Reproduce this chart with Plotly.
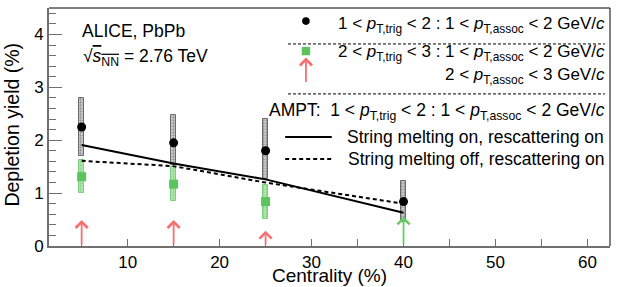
import plotly.graph_objects as go

# ---------------- data ----------------
centrality = [5, 15, 25, 40]

# 1 < pT,trig < 2 : 1 < pT,assoc < 2 GeV/c
yield_12 = [2.25, 1.95, 1.80, 0.84]
syst_12_low = [1.70, 1.53, 1.27, 0.46]
syst_12_high = [2.79, 2.48, 2.40, 1.22]

# 2 < pT,trig < 3 : 1 < pT,assoc < 2 GeV/c
cent_23 = [5, 15, 25]
yield_23 = [1.31, 1.17, 0.84]
syst_23_low = [1.00, 0.86, 0.52]
syst_23_high = [1.63, 1.49, 1.15]

# 2 < pT,trig < 3 : 2 < pT,assoc < 3 GeV/c -> lower limits (arrows)
cent_lim_red = [5, 15, 25]
lim_red = [0.49, 0.49, 0.29]
cent_lim_green = [40]
lim_green = [0.56]

# AMPT
ampt_sm_on = [1.91, 1.56, 1.26, 0.63]
ampt_sm_off = [1.61, 1.51, 1.20, 0.80]

x_ticks = [10, 20, 30, 40, 50, 60]
y_ticks = [0, 1, 2, 3, 4]

FONT = "Liberation Sans, Arial, Helvetica, sans-serif"
GREEN = "#5cc45c"
GREEN_ARROW = "#66cc66"
RED_ARROW = "#fa6e6e"
GRAY_AX = "#707070"

fig = go.Figure()

# systematic (hatched) boxes
fig.add_trace(go.Bar(
    x=centrality,
    y=[h - l for h, l in zip(syst_12_high, syst_12_low)],
    base=syst_12_low, width=0.55,
    marker=dict(color="#c8c8c8", line=dict(color="#6a6a6a", width=1),
                pattern=dict(shape=".", fgcolor="#555555", bgcolor="#d0d0d0",
                             size=3, solidity=0.45)),
    showlegend=False, hoverinfo="skip"))
fig.add_trace(go.Bar(
    x=cent_23,
    y=[h - l for h, l in zip(syst_23_high, syst_23_low)],
    base=syst_23_low, width=0.55,
    marker=dict(color="#a8e0a8", line=dict(color="#7ccf7c", width=1),
                pattern=dict(shape=".", fgcolor="#5cc45c", bgcolor="#b8e8b8",
                             size=3, solidity=0.45)),
    showlegend=False, hoverinfo="skip"))

# AMPT lines
fig.add_trace(go.Scatter(x=centrality, y=ampt_sm_on, mode="lines",
                         line=dict(color="black", width=2), showlegend=False))
fig.add_trace(go.Scatter(x=centrality, y=ampt_sm_off, mode="lines",
                         line=dict(color="black", width=2, dash="4px,3px"),
                         showlegend=False))

# data points
fig.add_trace(go.Scatter(x=cent_23, y=yield_23, mode="markers",
                         marker=dict(symbol="square", size=9, color=GREEN),
                         showlegend=False))
fig.add_trace(go.Scatter(x=centrality, y=yield_12, mode="markers",
                         marker=dict(symbol="circle", size=9, color="black"),
                         showlegend=False))

annotations = []
# lower-limit arrows
for xs, ys, col in [(cent_lim_red, lim_red, RED_ARROW),
                    (cent_lim_green, lim_green, GREEN_ARROW)]:
    for xv, yv in zip(xs, ys):
        annotations.append(dict(
            x=xv, y=yv, ax=xv, ay=0, xref="x", yref="y", axref="x", ayref="y",
            text="", showarrow=True, arrowhead=4, arrowsize=1.3,
            arrowwidth=1.8, arrowcolor=col, standoff=0))

TXT = dict(family=FONT, size=17.5, color="black")
TXT_S = dict(family=FONT, size=17, color="black")
def ann(text, x, y, xanchor="right", yanchor="middle", font=TXT):
    annotations.append(dict(text=text, x=x, y=y, xref="paper", yref="paper",
                            xanchor=xanchor, yanchor=yanchor, showarrow=False,
                            font=font))

ann("ALICE, PbPb", 0.055, 0.903, xanchor="left")
ann("√<span style='text-decoration:overline'><i>s</i><sub>NN</sub></span> = 2.76 TeV",
    0.057, 0.79, xanchor="left")

ann("1 &lt; <i>p</i><sub>T,trig</sub> &lt; 2 : 1 &lt; <i>p</i><sub>T,assoc</sub> &lt; 2 GeV/<i>c</i>",
    0.995, 0.93, font=TXT_S)
ann("2 &lt; <i>p</i><sub>T,trig</sub> &lt; 3 : 1 &lt; <i>p</i><sub>T,assoc</sub> &lt; 2 GeV/<i>c</i>",
    0.995, 0.81, font=TXT_S)
ann("2 &lt; <i>p</i><sub>T,assoc</sub> &lt; 3 GeV/<i>c</i>", 0.995, 0.713, font=TXT_S)
ann("AMPT:&nbsp; 1 &lt; <i>p</i><sub>T,trig</sub> &lt; 2 : 1 &lt; <i>p</i><sub>T,assoc</sub> &lt; 2 GeV/<i>c</i>",
    0.995, 0.565)
ann("String melting on, rescattering on", 0.992, 0.458)
ann("String melting off, rescattering on", 0.992, 0.366)

# legend arrow (red) below the green square
annotations.append(dict(x=0.458, y=0.792, xref="paper", yref="paper", ax=0, ay=26,
                        text="", showarrow=True, arrowhead=4, arrowsize=1.3,
                        arrowwidth=1.8, arrowcolor=RED_ARROW, standoff=0))

# axis titles
ann("Depletion yield (%)", -0.066, 0.51, xanchor="center",
    font=dict(family=FONT, size=19.5, color="black"))
annotations[-1]["textangle"] = -90
ann("Centrality (%)", 0.5, -0.126, xanchor="center", yanchor="middle",
    font=dict(family=FONT, size=19, color="black"))

shapes = [
    # frame top / right
    dict(type="line", xref="paper", yref="paper", x0=0, x1=1, y0=1, y1=1,
         line=dict(color="black", width=1)),
    dict(type="line", xref="paper", yref="paper", x0=1, x1=1, y0=0, y1=1,
         line=dict(color="black", width=1)),
    # legend separators
    dict(type="line", xref="paper", yref="paper", x0=0.426, x1=0.991, y0=0.849, y1=0.849,
         line=dict(color="black", width=1, dash="3px,2px")),
    dict(type="line", xref="paper", yref="paper", x0=0.426, x1=0.991, y0=0.639, y1=0.639,
         line=dict(color="black", width=1, dash="3px,2px")),
    # legend line samples
    dict(type="line", xref="paper", yref="paper", x0=0.421, x1=0.504, y0=0.458, y1=0.458,
         line=dict(color="black", width=2)),
    dict(type="line", xref="paper", yref="paper", x0=0.421, x1=0.504, y0=0.366, y1=0.366,
         line=dict(color="black", width=2, dash="4px,3px")),
    # legend markers
    dict(type="circle", xref="paper", yref="paper", x0=0.458 - 0.0068, x1=0.458 + 0.0068,
         y0=0.945 - 0.016, y1=0.945 + 0.016, fillcolor="black", line=dict(width=0)),
    dict(type="rect", xref="paper", yref="paper", x0=0.458 - 0.0075, x1=0.458 + 0.0075,
         y0=0.819 - 0.0176, y1=0.819 + 0.0176, fillcolor=GREEN, line=dict(width=0)),
]

fig.update_layout(
    width=623, height=287,
    margin=dict(l=49, r=13, t=8, b=41),
    paper_bgcolor="white", plot_bgcolor="white",
    barmode="overlay", bargap=0,
    font=dict(family=FONT, size=17, color="black"),
    annotations=annotations, shapes=shapes,
    xaxis=dict(range=[1.45, 62.45], tickvals=x_ticks, ticktext=[str(v) for v in x_ticks],
               ticks="inside", ticklen=7, tickwidth=1, tickcolor=GRAY_AX,
               minor=dict(dtick=5, tick0=0, ticks="inside", ticklen=7, tickcolor=GRAY_AX),
               showline=True, linecolor=GRAY_AX, linewidth=2, showgrid=False,
               zeroline=False, tickfont=dict(size=17)),
    yaxis=dict(range=[0, 4.5], tickvals=y_ticks, ticktext=[str(v) for v in y_ticks],
               ticks="inside", ticklen=13, tickwidth=1, tickcolor=GRAY_AX,
               minor=dict(dtick=0.2, tick0=0, ticks="inside", ticklen=7, tickcolor=GRAY_AX),
               showline=True, linecolor=GRAY_AX, linewidth=2, showgrid=False,
               zeroline=False, tickfont=dict(size=17)),
)

fig.write_html("out.html", config={"displayModeBar": False},
               post_script="document.body.style.margin='0px';")
